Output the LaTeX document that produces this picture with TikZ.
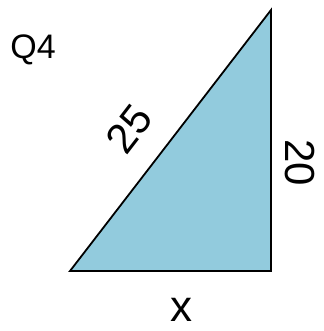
\documentclass[tikz,border=0pt]{standalone}
\usepackage{fontspec}
\setmainfont{Liberation Sans}
\definecolor{tri}{HTML}{92CBDD}
\begin{document}
\begin{tikzpicture}[x=1pt,y=-1pt,
  lbl/.style={inner sep=0pt}]
\useasboundingbox (0,0) rectangle (323,331);
\coordinate (A) at (70,271);
\coordinate (B) at (271,271);
\coordinate (C) at (271,10);
\filldraw[fill=tri,draw=black,line width=1.8pt,line join=miter] (A) -- (B) -- (C) -- cycle;
\node[lbl,font=\fontsize{34}{34}\selectfont] (q) at (33,50) {Q4};
\node[lbl,rotate=52.4,font=\fontsize{42}{42}\selectfont] (h) at (129,129) {25};
\node[lbl,rotate=-90,font=\fontsize{42}{42}\selectfont] (v) at (300,163) {20};
\node[lbl,font=\fontsize{44}{44}\selectfont] (b) at (181,310) {x};
\end{tikzpicture}
\end{document}
